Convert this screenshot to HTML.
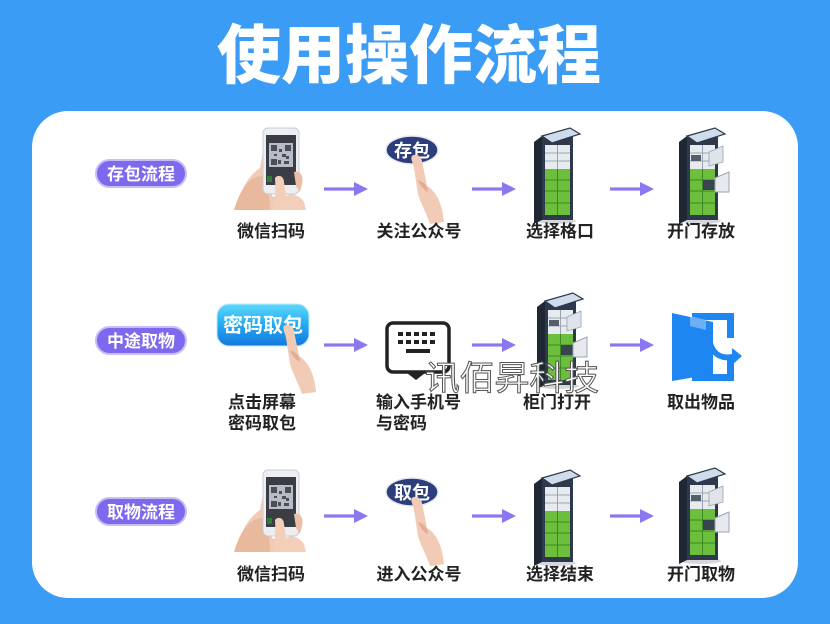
<!DOCTYPE html>
<html><head><meta charset="utf-8">
<style>
html,body{margin:0;padding:0;}
body{width:830px;height:624px;overflow:hidden;background:#3b9cf6;}
svg{display:block;}
text{font-family:"Liberation Sans","Noto Sans CJK SC",sans-serif;}
</style></head>
<body>
<svg width="830" height="624" viewBox="0 0 830 624" xmlns="http://www.w3.org/2000/svg">
<defs>
  <linearGradient id="btn" x1="0" y1="0" x2="0" y2="1">
    <stop offset="0" stop-color="#5fd8fb"/>
    <stop offset="0.5" stop-color="#22a9f2"/>
    <stop offset="1" stop-color="#1676dc"/>
  </linearGradient>
  <g id="arrow">
    <rect x="0" y="-1.6" width="32" height="3.2" fill="#8a78f0"/>
    <polygon points="30,-7 44,0 30,7" fill="#8a78f0"/>
  </g>
  <g id="pill">
    <rect x="0" y="0" width="90" height="27" rx="13.5" fill="#7d68ee" stroke="#c7bdf7" stroke-width="2"/>
  </g>
  <!-- phone in hands, local origin top-left of region (234,126) -->
  <g id="phone">
    <path d="M2,84 C6,64 14,50 26,42 L30,20 C32,14 38,14 38,22 L38,70 L60,78 C66,80 70,84 72,84 Z" fill="#f1cbb5"/>
    <path d="M0,84 C4,70 10,58 20,52 L34,48 L36,84 Z" fill="#e9b99e"/>
    <rect x="29" y="2" width="36" height="66" rx="5" fill="#eceef2" stroke="#c9ccd2" stroke-width="1"/>
    <rect x="32" y="9" width="30" height="50" fill="#3a3d44"/>
    <rect x="35" y="17" width="24" height="24" fill="#b7bcc6"/>
    <g fill="#4b4f58">
      <rect x="37" y="19" width="6" height="6"/><rect x="51" y="19" width="6" height="6"/><rect x="37" y="33" width="6" height="6"/>
      <rect x="45" y="23" width="3" height="3"/><rect x="48" y="28" width="4" height="3"/><rect x="44" y="34" width="3" height="4"/>
      <rect x="52" y="30" width="3" height="3"/><rect x="50" y="35" width="5" height="3"/><rect x="40" y="28" width="3" height="2"/>
    </g>
    <rect x="33" y="50" width="5" height="6" fill="#2e7d32"/>
    <path d="M41,52 C44,48 50,50 50,56 L52,70 C58,66 66,70 70,76 L72,84 L40,84 C40,76 42,66 41,52 Z" fill="#f3cfb9"/>
    <path d="M60,46 C66,44 70,50 68,58 L66,66 L62,60 Z" fill="#ecbea4"/>
  </g>
  <!-- finger pointing, origin at fingertip -->
  <g id="finger">
    <path d="M0,0 C4,-3 9,0 10,5 L15,30 C22,34 30,44 32,66 L18,68 C14,56 8,46 6,38 L2,12 C1,6 -2,3 0,0 Z" fill="#f1cbb5"/>
    <path d="M6,24 C12,26 16,30 16,36 C12,34 8,30 6,24 Z" fill="#e2ad93"/>
  </g>
  <!-- closed locker, origin top-left -->
  <g id="locker">
    <ellipse cx="22" cy="93" rx="20" ry="3" fill="#d4d7dc"/>
    <polygon points="0,14 8,8 8,92 0,96" fill="#1e2733"/>
    <rect x="8" y="8" width="31" height="84" fill="#2e3a4b"/>
    <polygon points="8,8 36,0 46,6 18,15" fill="#cfdceb" stroke="#2e3a4b" stroke-width="1.2"/>
    <rect x="11" y="17" width="25" height="24" fill="#e7ebef"/>
    <line x1="11" y1="25" x2="36" y2="25" stroke="#9aa4b0" stroke-width="1"/>
    <line x1="11" y1="33" x2="36" y2="33" stroke="#9aa4b0" stroke-width="1"/>
    <line x1="23.5" y1="17" x2="23.5" y2="41" stroke="#9aa4b0" stroke-width="1"/>
    <rect x="11" y="41" width="25" height="46" fill="#6cbf3c"/>
    <g stroke="#3e8a22" stroke-width="1">
      <line x1="23.5" y1="41" x2="23.5" y2="87"/>
      <line x1="11" y1="52" x2="36" y2="52"/>
      <line x1="11" y1="63" x2="36" y2="63"/>
      <line x1="11" y1="75" x2="36" y2="75"/>
    </g>
  </g>
  <!-- open locker -->
  <g id="lockeropen">
    <use href="#locker"/>
    <rect x="12" y="27" width="10" height="6" fill="#555f6b"/>
    <rect x="24" y="52" width="12" height="10" fill="#3a4350"/>
    <polygon points="36,50 50,44 50,64 36,64" fill="#e6eaee" stroke="#9aa4b0" stroke-width="1"/>
    <polygon points="30,24 44,18 44,34 30,38" fill="#dfe4ea" stroke="#9aa4b0" stroke-width="0.8"/>
  </g>
</defs>

<!-- title -->
<text x="409" y="78" text-anchor="middle" font-size="64" font-weight="900" fill="#ffffff">使用操作流程</text>

<!-- white panel -->
<rect x="32" y="111" width="766" height="487" rx="36" fill="#ffffff"/>

<!-- pills -->
<use href="#pill" x="96" y="160"/>
<text x="141" y="180" text-anchor="middle" font-size="17" font-weight="bold" fill="#fff">存包流程</text>
<use href="#pill" x="96" y="327"/>
<text x="141" y="347" text-anchor="middle" font-size="17" font-weight="bold" fill="#fff">中途取物</text>
<use href="#pill" x="96" y="498"/>
<text x="141" y="518" text-anchor="middle" font-size="17" font-weight="bold" fill="#fff">取物流程</text>

<!-- arrows -->
<use href="#arrow" x="324" y="189"/>
<use href="#arrow" x="472" y="189"/>
<use href="#arrow" x="610" y="189"/>
<use href="#arrow" x="324" y="345"/>
<use href="#arrow" x="472" y="345"/>
<use href="#arrow" x="610" y="345"/>
<use href="#arrow" x="324" y="516"/>
<use href="#arrow" x="472" y="516"/>
<use href="#arrow" x="610" y="516"/>

<!-- ROW 1 -->
<use href="#phone" x="234" y="126"/>
<ellipse cx="412" cy="150" rx="26" ry="14" fill="#2c3f7c" stroke="#e6e9f5" stroke-width="1.5"/>
<text x="412" y="157" text-anchor="middle" font-size="18" font-weight="bold" fill="#fff">存包</text>
<use href="#finger" x="412" y="156"/>
<use href="#locker" x="534" y="128"/>
<use href="#lockeropen" x="679" y="128"/>

<text x="271" y="237" text-anchor="middle" font-size="17" font-weight="bold" fill="#222">微信扫码</text>
<text x="419" y="237" text-anchor="middle" font-size="17" font-weight="bold" fill="#222">关注公众号</text>
<text x="560" y="237" text-anchor="middle" font-size="17" font-weight="bold" fill="#222">选择格口</text>
<text x="701" y="237" text-anchor="middle" font-size="17" font-weight="bold" fill="#222">开门存放</text>

<!-- ROW 2 -->
<rect x="217" y="304" width="92" height="42" rx="12" fill="url(#btn)" stroke="#bfe9fb" stroke-width="1"/>
<text x="263" y="332" text-anchor="middle" font-size="20" font-weight="bold" fill="#fff">密码取包</text>
<use href="#finger" x="284" y="326"/>

<rect x="387" y="323" width="62" height="49" rx="6" fill="#fff" stroke="#222" stroke-width="3.5"/>
<g fill="#222">
  <rect x="398" y="332" width="5" height="4"/><rect x="406" y="332" width="5" height="4"/><rect x="414" y="332" width="5" height="4"/><rect x="422" y="332" width="5" height="4"/><rect x="430" y="332" width="5" height="4"/>
  <rect x="398" y="340" width="5" height="4"/><rect x="406" y="340" width="5" height="4"/><rect x="414" y="340" width="5" height="4"/><rect x="422" y="340" width="5" height="4"/><rect x="430" y="340" width="5" height="4"/>
  <rect x="406" y="349" width="24" height="4"/>
  <polygon points="407,373 425,373 416,380"/>
</g>

<use href="#lockeropen" x="537" y="293" transform="translate(0,0)"/>

<g fill="#1d86f0">
  <rect x="692" y="313" width="42" height="7"/>
  <rect x="727" y="313" width="7" height="25"/>
  <rect x="727" y="358" width="7" height="23"/>
  <rect x="692" y="374" width="42" height="7"/>
  <polygon points="672,313 713,322 713,374 672,381"/>
  <path d="M712,338 C714,352 722,356 732,354 L732,348 L742,356 L732,365 L732,360 C718,362 708,354 708,340 Z"/>
</g>
<polygon points="690,316 706,320 706,330 690,326" fill="#ffffff" opacity="0.35"/>

<text x="228" y="408" font-size="17" font-weight="bold" fill="#222">点击屏幕</text>
<text x="228" y="429" font-size="17" font-weight="bold" fill="#222">密码取包</text>
<text x="376" y="408" font-size="17" font-weight="bold" fill="#222">输入手机号</text>
<text x="376" y="429" font-size="17" font-weight="bold" fill="#222">与密码</text>
<text x="523" y="408" font-size="17" font-weight="bold" fill="#222">柜门打开</text>
<text x="667" y="408" font-size="17" font-weight="bold" fill="#222">取出物品</text>

<!-- watermark -->
<text x="425" y="390" font-size="34" font-weight="normal" fill="#ffffff" stroke="#555" stroke-width="1" textLength="174" lengthAdjust="spacingAndGlyphs">讯佰昇科技</text>

<!-- ROW 3 -->
<use href="#phone" x="234" y="468"/>
<ellipse cx="412" cy="492" rx="26" ry="14" fill="#2c3f7c" stroke="#e6e9f5" stroke-width="1.5"/>
<text x="412" y="499" text-anchor="middle" font-size="18" font-weight="bold" fill="#fff">取包</text>
<use href="#finger" x="412" y="498"/>
<use href="#locker" x="534" y="470"/>
<use href="#lockeropen" x="679" y="468"/>

<text x="271" y="580" text-anchor="middle" font-size="17" font-weight="bold" fill="#222">微信扫码</text>
<text x="419" y="580" text-anchor="middle" font-size="17" font-weight="bold" fill="#222">进入公众号</text>
<text x="560" y="580" text-anchor="middle" font-size="17" font-weight="bold" fill="#222">选择结束</text>
<text x="701" y="580" text-anchor="middle" font-size="17" font-weight="bold" fill="#222">开门取物</text>
</svg>
</body></html>
